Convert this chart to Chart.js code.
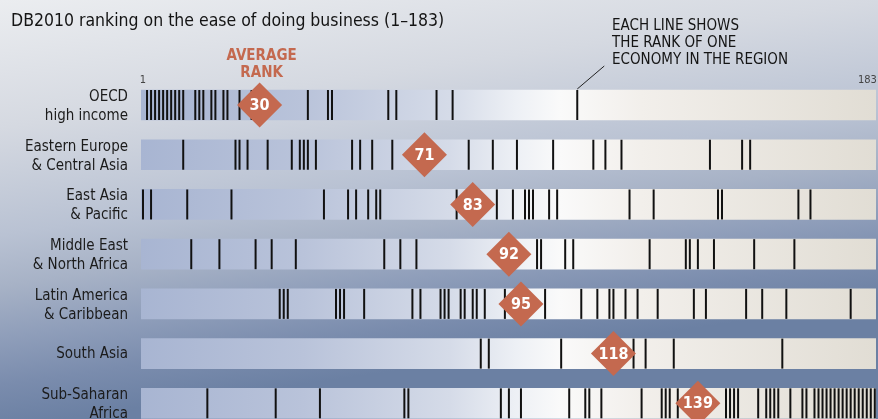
<!DOCTYPE html>
<html lang="en">
<head>
<meta charset="UTF-8" />
<script src="https://cdn.jsdelivr.net/npm/chart.js@4.4.1/dist/chart.umd.min.js"></script>
<title>DB2010 ranking</title>
<style>
  html, body { margin: 0; padding: 0; }
</style>
</head>
<body>
<canvas id="chart" width="878" height="419"></canvas>
<script>
// regions (two-line labels) and the average rank of each
const regions = [
  ["OECD", "high income"],
  ["Eastern Europe", "& Central Asia"],
  ["East Asia", "& Pacific"],
  ["Middle East", "& North Africa"],
  ["Latin America", "& Caribbean"],
  ["South Asia"],
  ["Sub-Saharan", "Africa"]
];
const averageRank = [30, 71, 83, 92, 95, 118, 139];

// one entry per economy
const ranksOECD = [2, 3, 4, 5, 6, 7, 8, 9, 10, 11, 14, 15, 16, 18, 19, 21, 22, 25, 28, 42, 47, 48, 62, 64, 74, 78, 109];
const ranksECA = [11, 24, 25, 27, 32, 38, 40, 41, 42, 44, 53, 55, 58, 63, 82, 88, 94, 103, 113, 116, 120, 142, 150, 152];
const ranksEAP = [1, 3, 12, 23, 46, 52, 54, 57, 59, 60, 79, 89, 93, 96, 97, 98, 102, 104, 122, 128, 144, 145, 164, 167];
const ranksMENA = [13, 20, 29, 33, 39, 61, 65, 69, 99, 100, 106, 108, 127, 136, 137, 139, 143, 153, 163];
const ranksLAC = [35, 36, 37, 49, 50, 51, 56, 68, 70, 75, 76, 77, 80, 81, 83, 84, 86, 91, 101, 110, 114, 117, 118, 121, 124, 129, 138, 141, 151, 155, 161, 177];
const ranksSAS = [85, 87, 105, 123, 126, 133, 160];
const ranksSSA = [17, 34, 45, 66, 67, 90, 92, 95, 107, 111, 112, 115, 125, 130, 131, 132, 134, 146, 147, 148, 149, 154, 156, 157, 158, 159, 162, 165, 166, 168, 169, 170, 171, 172, 173, 174, 175, 176, 177, 178, 179, 180, 181, 182, 183];

const regionRanks = [ranksOECD, ranksECA, ranksEAP, ranksMENA, ranksLAC, ranksSAS, ranksSSA];
const rankMin = 1;
const rankMax = 183;
const pointedRank = 109; // the line the note points at

const FONT = '"DejaVu Sans Condensed", "DejaVu Sans", sans-serif';
const CORAL = "#c4694f";

// points for the rank lines
const linePoints = [];
regionRanks.forEach((ranks, i) => {
  ranks.forEach((r) => linePoints.push({ x: r, y: i }));
});

const barStops = [
  [0, "#a8b5d2"], [0.22, "#b9c3da"], [0.42, "#d5dbe8"], [0.51, "#edf0f5"],
  [0.57, "#fafafa"], [0.68, "#f2efeb"], [1, "#e1ddd4"]
];

const background = {
  id: "background",
  beforeDraw(chart) {
    const { ctx, width, height } = chart;
    const g = ctx.createLinearGradient(0, 0, 60, height);
    g.addColorStop(0, "#ebedf0");
    g.addColorStop(0.3, "#d5d9e1");
    g.addColorStop(0.55, "#b9c2d3");
    g.addColorStop(0.67, "#a7b2c6");
    g.addColorStop(0.79, "#8f9eba");
    g.addColorStop(0.9, "#7a8cad");
    g.addColorStop(1, "#6b80a3");
    ctx.save();
    ctx.fillStyle = g;
    ctx.fillRect(0, 0, width, height);
    ctx.restore();
  }
};

const notes = {
  id: "notes",
  afterDatasetsDraw(chart) {
    const { ctx } = chart;
    const xs = chart.scales.x;
    const ys = chart.scales.y;
    ctx.save();

    // numbers in the diamonds
    const meta = chart.getDatasetMeta(2);
    ctx.fillStyle = "#ffffff";
    ctx.font = "bold 16px " + FONT;
    ctx.textAlign = "center";
    ctx.textBaseline = "middle";
    meta.data.forEach((pt, i) => ctx.fillText(String(averageRank[i]), pt.x, pt.y + 1));

    // region labels
    ctx.fillStyle = "#1b1b1b";
    ctx.textAlign = "right";
    ctx.font = "15px " + FONT;
    regions.forEach((lines, i) => {
      const yc = ys.getPixelForValue(i);
      if (lines.length === 1) {
        ctx.fillText(lines[0], 128, yc);
      } else {
        ctx.fillText(lines[0], 128, yc - 8);
        ctx.fillText(lines[1], 128, yc + 11);
      }
    });

    // title
    ctx.fillStyle = "#141414";
    ctx.textAlign = "left";
    ctx.textBaseline = "alphabetic";
    ctx.font = "17.5px " + FONT;
    ctx.fillText("DB2010 ranking on the ease of doing business (1\u2013183)", 11, 26);

    // average rank caption
    const ax = xs.getPixelForValue(averageRank[0]) + 2;
    ctx.fillStyle = CORAL;
    ctx.textAlign = "center";
    ctx.font = "bold 15px " + FONT;
    ctx.fillText("AVERAGE", ax, 60);
    ctx.fillText("RANK", ax, 77);

    // scale ends
    ctx.fillStyle = "#444";
    ctx.font = "11px " + FONT;
    ctx.fillText("1", xs.getPixelForValue(rankMin), 83);
    ctx.textAlign = "right";
    ctx.fillText("183", xs.getPixelForValue(rankMax) + 2, 83);

    // note
    ctx.fillStyle = "#141414";
    ctx.textAlign = "left";
    ctx.font = "15px " + FONT;
    ctx.fillText("EACH LINE SHOWS", 612, 30);
    ctx.fillText("THE RANK OF ONE", 612, 47);
    ctx.fillText("ECONOMY IN THE REGION", 612, 64);
    const px = xs.getPixelForValue(pointedRank);
    ctx.strokeStyle = "#222";
    ctx.lineWidth = 1;
    ctx.beginPath();
    ctx.moveTo(px, 89);
    ctx.lineTo(px + 27, 66);
    ctx.stroke();

    ctx.restore();
  }
};

new Chart(document.getElementById("chart"), {
  data: {
    datasets: [
      {
        type: "bar",
        indexAxis: "y",
        data: regions.map((_, i) => ({ x: [0.5, 183.3], y: i })),
        barThickness: 30,
        borderWidth: 0,
        borderSkipped: false,
        backgroundColor: (c) => {
          const area = c.chart.chartArea;
          if (!area) return "#d0d5e0";
          const g = c.chart.ctx.createLinearGradient(area.left, 0, area.right, 0);
          barStops.forEach(([p, col]) => g.addColorStop(p, col));
          return g;
        },
        order: 3
      },
      {
        type: "scatter",
        data: linePoints,
        pointStyle: "line",
        rotation: 90,
        radius: 15,
        borderWidth: 2,
        borderColor: "#111111",
        clip: false,
        order: 2
      },
      {
        type: "scatter",
        data: averageRank.map((v, i) => ({ x: v, y: i })),
        pointStyle: "rectRot",
        radius: 22.5,
        borderWidth: 0,
        backgroundColor: CORAL,
        clip: false,
        order: 1
      }
    ]
  },
  options: {
    responsive: false,
    animation: false,
    events: [],
    layout: { autoPadding: false, padding: { top: 80, right: 2, bottom: 0, left: 141 } },
    plugins: {
      legend: { display: false },
      tooltip: { enabled: false },
      title: { display: false }
    },
    scales: {
      x: {
        type: "linear",
        min: 0.5,
        max: 183.3,
        offset: false,
        display: false
      },
      y: {
        type: "linear",
        reverse: true,
        min: -0.503,
        max: 6.315,
        offset: false,
        display: false
      }
    }
  },
  plugins: [background, notes]
});
</script>
</body>
</html>
